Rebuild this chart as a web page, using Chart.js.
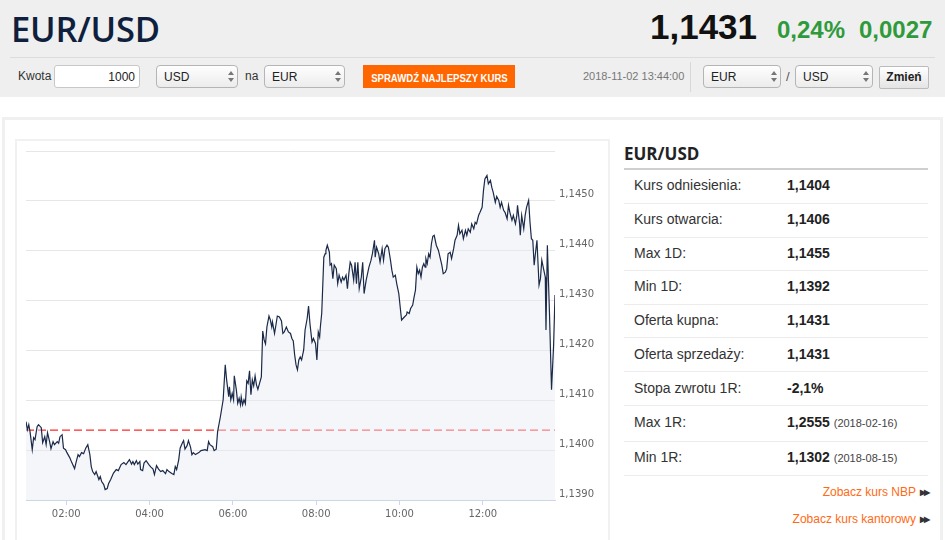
<!DOCTYPE html>
<html>
<head>
<meta charset="utf-8">
<script src="https://cdn.jsdelivr.net/npm/chart.js@4.4.0/dist/chart.umd.min.js"></script>
<style>
  html, body { margin: 0; padding: 0; }
  body { width: 945px; height: 540px; overflow: hidden; position: relative; background: #fff;
         font-family: "Liberation Sans", Arial, sans-serif; color: #333; }
  .abs { position: absolute; }
  #top { left: 0; top: 0; width: 945px; height: 97px; background: #efefef; }
  #title { left: 11px; top: 5px; font-family: "Open Sans", sans-serif; font-weight: 600; font-size: 34.5px; color: #0f1f3d; letter-spacing: -0.2px; }
  #price { left: 650px; top: 7px; font-weight: bold; font-size: 35px; color: #111; }
  .grn { font-weight: bold; font-size: 24px; color: #2f9a3b; top: 16px; }
  #sep1 { left: 10px; top: 57px; width: 925px; height: 1px; background: #dcdcdc; }
  .lbl { font-size: 12px; color: #333; }
  .inp { background: #fff; border: 1px solid #c8c8c8; border-radius: 3px; box-sizing: border-box; }
  .sel { border: 1px solid #b5b5b5; border-radius: 4px; box-sizing: border-box; background: linear-gradient(#fefefe, #ececec); font-size: 12px; color: #222; }
  .sel span { position: absolute; left: 7px; top: 4px; }
  .arr { position: absolute; right: 6px; top: 5px; width: 0; height: 0; }
  .arr:before { content: ""; position: absolute; left: -3px; top: 0; border-left: 3px solid transparent; border-right: 3px solid transparent; border-bottom: 4px solid #777; }
  .arr:after { content: ""; position: absolute; left: -3px; top: 7px; border-left: 3px solid transparent; border-right: 3px solid transparent; border-top: 4px solid #777; }
  #btn { left: 363px; top: 65px; width: 152px; height: 23px; background: #ff6600; color: #fff; text-align: center; line-height: 23px; white-space: nowrap; overflow: hidden; }
  #btn span { display: inline-block; font-size: 11px; font-weight: bold; transform: scaleX(0.87); transform-origin: center; margin: 0 -12px; }
  #date { left: 583px; top: 70px; font-size: 11px; color: #777; }
  #vsep { left: 690px; top: 62px; width: 1px; height: 30px; background: #d8d8d8; }
  #zmien { left: 879px; top: 66px; width: 50px; height: 23px; box-sizing: border-box; border: 1px solid #bbb; border-radius: 2px; background: linear-gradient(#fff, #e4e4e4); font-size: 12px; font-weight: bold; text-align: center; line-height: 21px; color: #222; }
  #outer { left: 2px; top: 117px; width: 941px; height: 440px; box-sizing: border-box; border: 3px solid #f0f0f0; border-bottom: none; }
  #chartbox { left: 15px; top: 139px; width: 595px; height: 420px; box-sizing: border-box; border: 2px solid #f1f1f1; border-bottom: none; }
  #cv { position: absolute; left: 17px; top: 141px; }
  #ttl { left: 624px; top: 142px; font-family: "Open Sans", sans-serif; font-weight: 700; font-size: 17px; color: #222; }
  #ttlline { left: 624px; top: 168px; width: 304px; height: 2px; background: #cfcfcf; }
  .row { left: 624px; width: 304px; height: 1px; background: #ececec; }
  .k { left: 634px; font-size: 14px; color: #333; }
  .v { left: 787px; font-size: 14px; font-weight: bold; color: #222; }
  .v small { font-size: 11px; font-weight: normal; color: #444; }
  .lnk { font-size: 12px; color: #ff6a13; text-align: right; }
  .lnk b { color: #333; font-size: 8px; letter-spacing: -2px; margin-left: 4px; vertical-align: 1px; }
</style>
</head>
<body>
<div id="top" class="abs"></div>
<div id="title" class="abs">EUR/USD</div>
<div id="price" class="abs">1,1431</div>
<div class="abs grn" style="left:777px">0,24%</div>
<div class="abs grn" style="left:859px">0,0027</div>
<div id="sep1" class="abs"></div>

<div class="abs lbl" style="left:18px;top:69px">Kwota</div>
<div class="abs inp" style="left:54px;top:65px;width:86px;height:23px"><span class="abs" style="right:4px;top:4px;font-size:12px;color:#222">1000</span></div>
<div class="abs sel" style="left:156px;top:65px;width:82px;height:23px"><span>USD</span><i class="arr"></i></div>
<div class="abs lbl" style="left:245px;top:69px">na</div>
<div class="abs sel" style="left:264px;top:65px;width:81px;height:23px"><span>EUR</span><i class="arr"></i></div>
<div id="btn" class="abs"><span>SPRAWDŹ NAJLEPSZY KURS</span></div>
<div id="date" class="abs">2018-11-02 13:44:00</div>
<div id="vsep" class="abs"></div>
<div class="abs sel" style="left:703px;top:65px;width:78px;height:23px"><span>EUR</span><i class="arr"></i></div>
<div class="abs lbl" style="left:786px;top:69px;font-size:13px;color:#555">/</div>
<div class="abs sel" style="left:795px;top:65px;width:78px;height:23px"><span>USD</span><i class="arr"></i></div>
<div id="zmien" class="abs">Zmień</div>

<div id="outer" class="abs"></div>
<div id="chartbox" class="abs"></div>
<canvas id="cv" width="592" height="399"></canvas>

<div id="ttl" class="abs">EUR/USD</div>
<div id="ttlline" class="abs"></div>
<div id="table"></div>

<div class="abs lnk" style="right:17px;top:485px">Zobacz kurs NBP<b>▶▶</b></div>
<div class="abs lnk" style="right:17px;top:512px">Zobacz kurs kantorowy<b>▶▶</b></div>

<script>
// ---- intraday EUR/USD quotes, 2018-11-02 (minutes after midnight, rate) ----
const minutes = [62,64,66,68,71,73,75,78,80,84,86,89,91,93,96,98,101,103,107,109,111,114,116,119,121,125,128,132,134,137,139,142,145,148,151,154,156,158,161,163,167,169,171,174,176,179,181,184,188,192,195,199,203,206,210,211,214,216,218,221,223,226,227,230,232,235,239,242,245,247,250,253,256,259,263,265,268,272,275,277,279,282,284,287,289,291,294,296,299,301,303,306,311,314,320,323,325,327,331,333,336,338,342,346,349,351,354,355,357,359,361,362,365,367,369,371,372,374,376,378,380,382,384,386,388,390,392,394,396,399,401,403,405,407,409,412,414,416,417,420,422,424,427,430,432,434,437,440,443,445,447,449,451,453,455,457,459,462,464,467,469,471,474,476,479,481,483,485,486,488,491,493,494,496,499,500,502,504,506,509,511,513,516,518,520,523,525,527,529,531,534,536,538,540,542,545,547,549,552,554,556,559,561,564,565,567,570,572,575,577,579,582,584,587,589,591,594,596,599,601,603,607,610,611,614,616,619,621,623,625,627,629,631,633,635,637,638,640,642,644,646,648,650,653,656,661,663,666,668,670,673,675,678,680,683,685,687,690,692,695,697,699,702,704,707,709,711,714,716,719,721,723,726,728,731,733,735,738,740,743,745,747,750,752,755,757,759,762,764,767,769,770,773,774,776,779,781,783,786,788,790,792,794,796,798,801,803,805,807,810,811,813,816,819,822,824];
const rates = [1.14057,1.14041,1.14051,1.14035,1.14001,1.14025,1.14021,1.14047,1.14051,1.14045,1.14015,1.14027,1.14011,1.14035,1.14017,1.14003,1.14017,1.14011,1.14017,1.14014,1.14027,1.14031,1.14004,1.14001,1.13995,1.13985,1.13975,1.13963,1.13975,1.13991,1.13987,1.13995,1.13993,1.14004,1.14011,1.13991,1.13967,1.13957,1.13951,1.13957,1.13941,1.13947,1.13937,1.13931,1.13921,1.13923,1.13933,1.13941,1.13954,1.13961,1.13959,1.13971,1.13975,1.13971,1.13979,1.13981,1.13972,1.13977,1.13971,1.13979,1.13972,1.13977,1.13961,1.13959,1.13974,1.13979,1.13971,1.13966,1.13962,1.13951,1.13969,1.13962,1.13957,1.13959,1.13953,1.13961,1.13957,1.13953,1.13951,1.13967,1.13961,1.13981,1.14004,1.14014,1.14019,1.14002,1.14009,1.14019,1.14006,1.13991,1.13995,1.13991,1.13995,1.13999,1.14001,1.13999,1.14017,1.14011,1.14007,1.13999,1.14002,1.14037,1.14067,1.14101,1.14171,1.14141,1.14107,1.14127,1.14101,1.14114,1.14101,1.14149,1.14121,1.14094,1.14104,1.14091,1.14107,1.14091,1.14101,1.14093,1.14139,1.14134,1.14159,1.14111,1.14141,1.14129,1.14149,1.14131,1.14122,1.14137,1.14147,1.14239,1.14221,1.14213,1.14247,1.14269,1.14261,1.14247,1.14257,1.14234,1.14251,1.14269,1.14267,1.14259,1.14234,1.14237,1.14247,1.14237,1.14234,1.14224,1.14219,1.14191,1.14171,1.14161,1.14181,1.14187,1.14181,1.14201,1.14241,1.14264,1.14289,1.14254,1.14217,1.14224,1.14214,1.14181,1.14237,1.14227,1.14247,1.14275,1.14387,1.14394,1.14401,1.14411,1.14397,1.14371,1.14374,1.14344,1.14371,1.14364,1.14334,1.14351,1.14337,1.14347,1.14341,1.14351,1.14324,1.14354,1.14377,1.14371,1.14341,1.14377,1.14334,1.14377,1.14324,1.14347,1.14377,1.14314,1.14341,1.14354,1.14367,1.14381,1.14394,1.14421,1.14387,1.14407,1.14394,1.14377,1.14404,1.14381,1.14404,1.14411,1.14407,1.14381,1.14361,1.14347,1.14351,1.14334,1.14314,1.14287,1.14261,1.14267,1.14271,1.14277,1.14274,1.14284,1.14291,1.14307,1.14321,1.14367,1.14354,1.14361,1.14347,1.14367,1.14374,1.14367,1.14384,1.14374,1.14394,1.14387,1.14414,1.14429,1.14431,1.14411,1.14401,1.14371,1.14354,1.14357,1.14364,1.14394,1.14397,1.14384,1.14404,1.14421,1.14431,1.14451,1.14434,1.14441,1.14424,1.14441,1.14431,1.14444,1.14437,1.14454,1.14444,1.14457,1.14454,1.14471,1.14477,1.14487,1.14521,1.14544,1.14551,1.14534,1.14541,1.14527,1.14517,1.14497,1.14509,1.14501,1.14487,1.14497,1.14481,1.14477,1.14464,1.14491,1.14477,1.14461,1.14471,1.14454,1.14471,1.14491,1.14454,1.14431,1.14471,1.14444,1.14471,1.14487,1.14501,1.14457,1.14424,1.14421,1.14371,1.14397,1.14421,1.14331,1.14344,1.14381,1.14367,1.14347,1.14241,1.14411,1.14277,1.14121,1.14211,1.14311];
const referenceRate = 1.1404;
const xTickMinutes = [120, 240, 360, 480, 600, 720];
const yMin = 1.1390, yMax = 1.1460, yStep = 0.001;

// ---- side table ----
const statLabels = ["Kurs odniesienia:", "Kurs otwarcia:", "Max 1D:", "Min 1D:", "Oferta kupna:", "Oferta sprzedaży:", "Stopa zwrotu 1R:", "Max 1R:", "Min 1R:"];
const statValues = ["1,1404", "1,1406", "1,1455", "1,1392", "1,1431", "1,1431", "-2,1%", "1,2555", "1,1302"];
const statDates  = ["", "", "", "", "", "", "", "2018-02-16", "2018-08-15"];

const rowCenters = [185, 219, 253, 286, 320, 354, 388, 422, 457];
const rowLines = [202.5, 236.5, 270, 303.5, 337, 371, 405, 440.5, 475];
const tbl = document.getElementById('table');
statLabels.forEach((l, i) => {
  const k = document.createElement('div');
  k.className = 'abs k'; k.style.top = (rowCenters[i] - 8) + 'px'; k.textContent = l;
  tbl.appendChild(k);
  const v = document.createElement('div');
  v.className = 'abs v'; v.style.top = (rowCenters[i] - 8) + 'px';
  v.innerHTML = statValues[i] + (statDates[i] ? ' <small>(' + statDates[i] + ')</small>' : '');
  tbl.appendChild(v);
  const r = document.createElement('div');
  r.className = 'abs row'; r.style.top = rowLines[i] + 'px';
  tbl.appendChild(r);
});

// ---- chart ----
const pts = minutes.map((m, i) => ({ x: m, y: rates[i] }));
const refPts = [{ x: minutes[0], y: referenceRate }, { x: minutes[minutes.length - 1], y: referenceRate }];
const hhmm = m => String(Math.floor(m / 60)).padStart(2, '0') + ':' + String(m % 60).padStart(2, '0');

new Chart(document.getElementById('cv'), {
  type: 'line',
  data: {
    datasets: [
      { data: refPts, borderColor: '#ff2a2a', borderWidth: 1.2, borderDash: [8, 4], pointRadius: 0, fill: false, order: 2 },
      { data: pts, borderColor: '#1b2a48', borderWidth: 1.2, pointRadius: 0, tension: 0,
        fill: 'start', backgroundColor: 'rgba(232,235,241,0.45)', order: 1 }
    ]
  },
  options: {
    responsive: false,
    animation: false,
    layout: { padding: { left: 9, top: 8, right: 0, bottom: 0 } },
    plugins: { legend: { display: false }, tooltip: { enabled: false } },
    scales: {
      x: {
        type: 'linear', min: minutes[0], max: minutes[minutes.length - 1],
        afterBuildTicks: s => { s.ticks = xTickMinutes.map(v => ({ value: v })); },
        afterFit: s => { s.height = 40; },
        grid: { drawOnChartArea: false, drawTicks: true, tickLength: 5, color: '#ccd6eb' },
        border: { color: '#ccd6eb', width: 1 },
        ticks: { autoSkip: false, maxRotation: 0, padding: 3, color: '#666', font: { family: 'DejaVu Sans', size: 10 },
                 callback: v => hhmm(v) }
      },
      y: {
        position: 'right', min: yMin, max: yMax,
        afterBuildTicks: s => { const t = []; for (let v = yMin; v <= yMax + 1e-9; v += yStep) t.push({ value: +v.toFixed(4) }); s.ticks = t; },
        afterFit: s => { s.width = 54; },
        grid: { color: '#e6e6e6', drawTicks: false },
        border: { display: false },
        ticks: { padding: 4, labelOffset: -6, color: '#666', font: { family: 'DejaVu Sans', size: 10 },
                 callback: v => (v > yMax - 1e-6) ? '' : v.toFixed(4).replace('.', ',') }
      }
    }
  }
});
</script>
</body>
</html>
